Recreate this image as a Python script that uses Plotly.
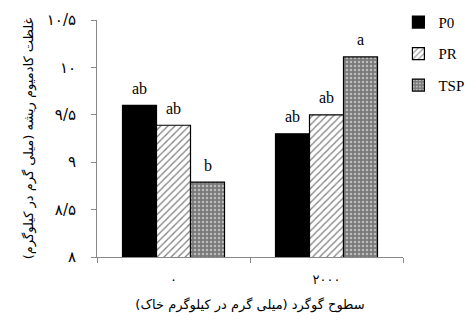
import plotly.graph_objects as go

categories = ["۰", "۲۰۰۰"]
series_names = ["P0", "PR", "TSP"]
p0_values = [9.60, 9.30]
pr_values = [9.39, 9.50]
tsp_values = [8.79, 10.11]
p0_letters = ["ab", "ab"]
pr_letters = ["ab", "ab"]
tsp_letters = ["b", "a"]
y_tick_vals = [8, 8.5, 9, 9.5, 10, 10.5]
y_tick_text = ["۸", "۸/۵", "۹", "۹/۵", "۱۰", "۱۰/۵"]

serif = "Liberation Serif"
fig = go.Figure()

styles = [
    dict(color="black", pattern=dict(shape="")),
    dict(color="white", pattern=dict(shape="/", fgcolor="black", bgcolor="white", size=5, solidity=0.25)),
    dict(color="#7a7a7a", pattern=dict(shape=".", fgcolor="white", bgcolor="#7a7a7a", size=4, solidity=0.3)),
]
bar_px = 34
all_vals = [p0_values, pr_values, tsp_values]
all_letters = [p0_letters, pr_letters, tsp_letters]
for i, (name, vals, letters, st, g) in enumerate(zip(series_names, all_vals, all_letters, styles, ["a", "b", "c"])):
    fig.add_trace(go.Bar(
        name=name, x=categories, y=vals, legendgroup=g,
        marker=dict(color=st["color"], pattern=st["pattern"], line=dict(color="black", width=1.2)),
    ))
    for c, v, t in zip(categories, vals, letters):
        fig.add_annotation(x=c, y=v, text=t, showarrow=False, xref="x", yref="y",
                           xshift=(i - 1) * bar_px, yshift=17,
                           font=dict(family=serif, size=16, color="black"))

fig.update_layout(
    width=476, height=323,
    margin=dict(l=89, r=81, t=12, b=74, autoexpand=False),
    barmode="group", bargap=1/3, bargroupgap=0,
    plot_bgcolor="white", paper_bgcolor="white",
    font=dict(family=serif, color="black"),
    showlegend=True,
    legend=dict(x=0.985, y=1.06, xanchor="left", yanchor="top", tracegroupgap=9,
                font=dict(family=serif, size=15), itemwidth=30, bgcolor="rgba(0,0,0,0)"),
    xaxis=dict(
        type="category", tickson="boundaries", ticks="outside", ticklen=5, tickcolor="#888",
        showline=True, linecolor="#888", linewidth=1, showgrid=False,
        tickfont=dict(family="DejaVu Sans", size=13, color="black"), ticklabelstandoff=10,
        title=dict(text="سطوح گوگرد (میلی گرم در کیلوگرم خاک)", font=dict(family="DejaVu Sans", size=13), standoff=14),
    ),
    yaxis=dict(
        range=[8, 10.5], tickvals=y_tick_vals, ticktext=y_tick_text,
        ticks="outside", ticklen=5, tickcolor="#888",
        showline=True, linecolor="#888", linewidth=1, showgrid=False, zeroline=False,
        tickfont=dict(family="DejaVu Sans", size=15, color="black"), ticklabelstandoff=12,
        title=dict(text="غلظت کادمیوم ریشه (میلی گرم در کیلوگرم)", font=dict(family="DejaVu Sans", size=13), standoff=10),
    ),
)

fig.write_html("out.html")
